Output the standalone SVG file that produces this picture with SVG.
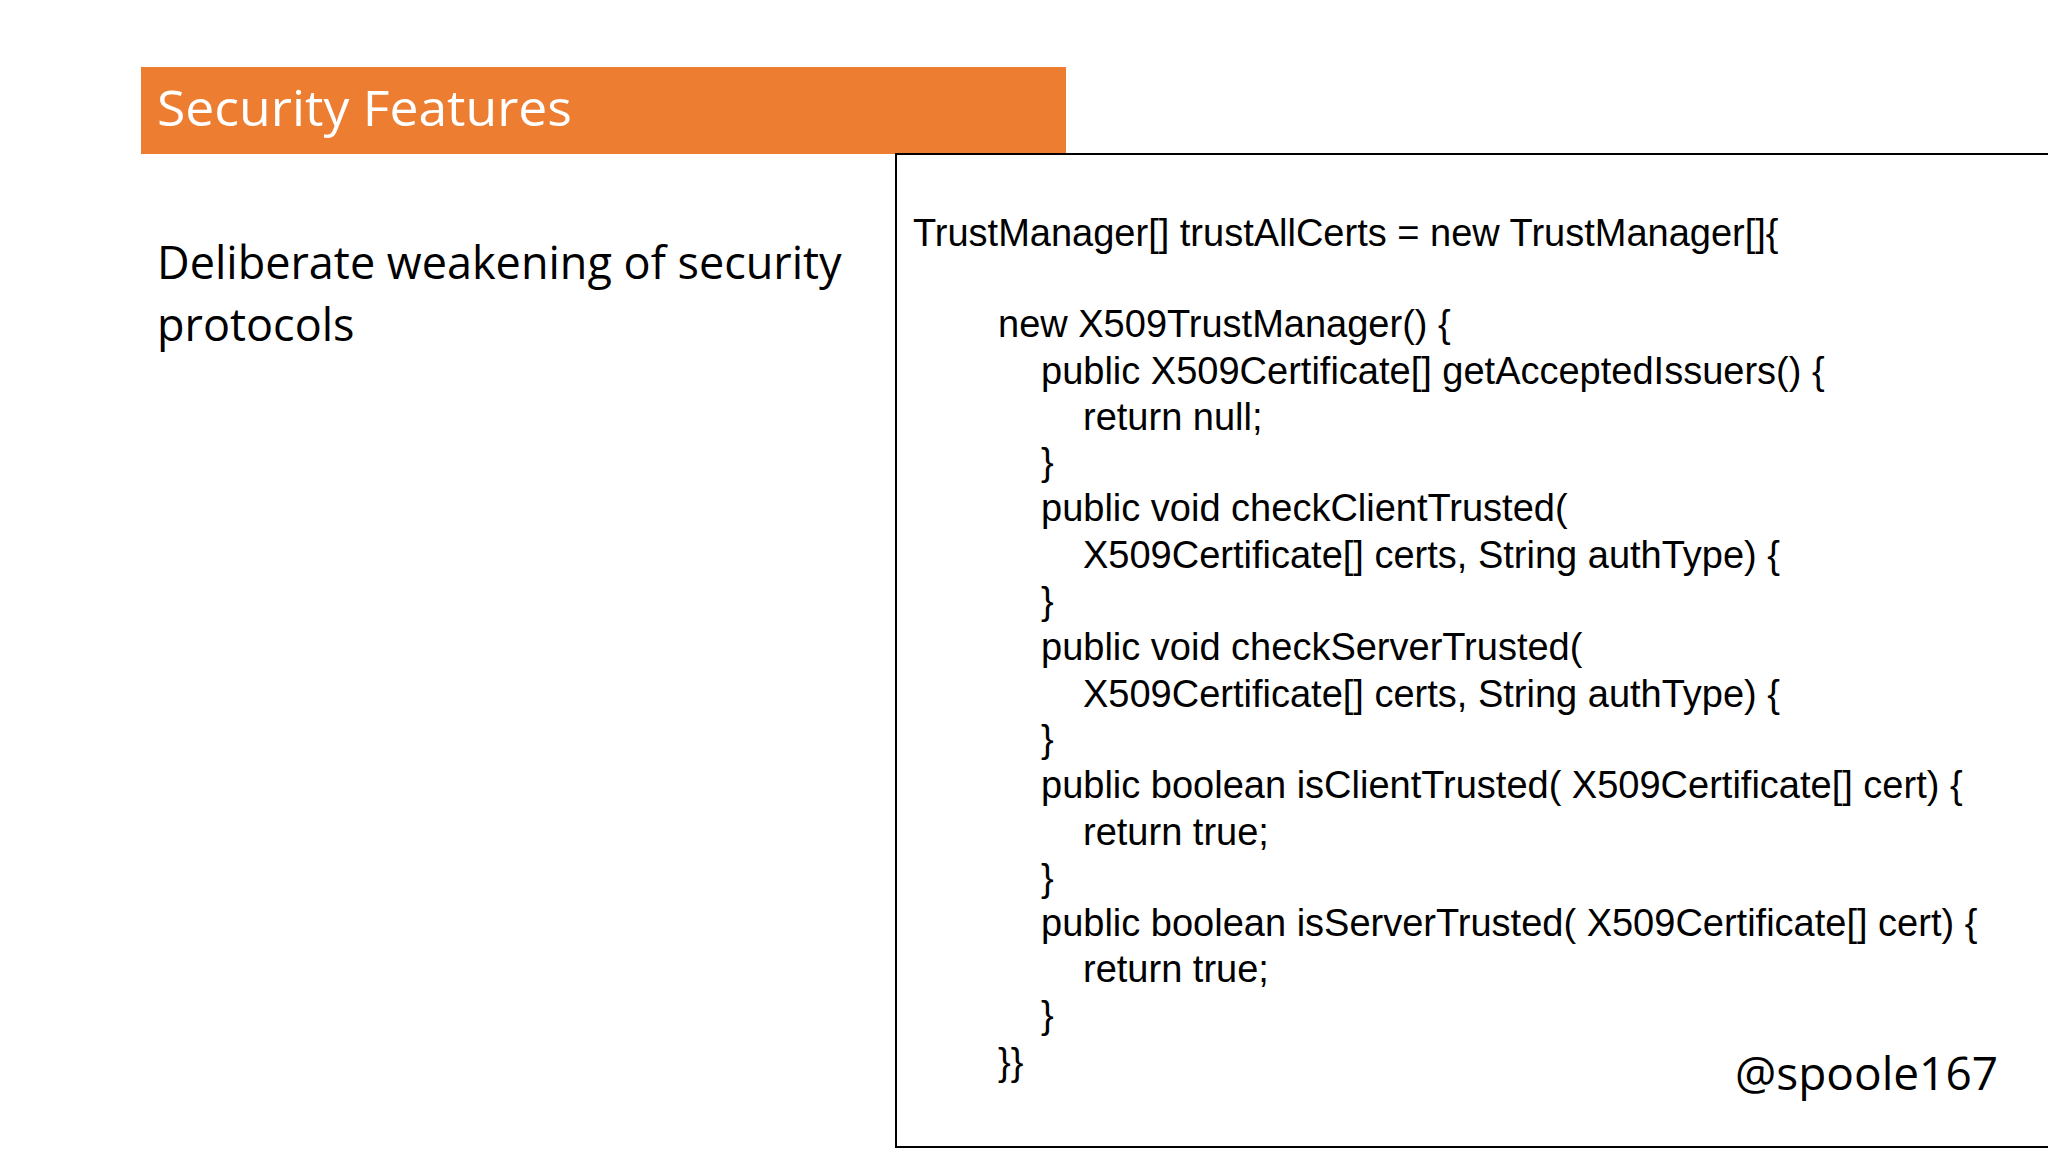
<svg xmlns="http://www.w3.org/2000/svg" width="2048" height="1152" viewBox="0 0 2048 1152">
<style>
.code{font-family:"Liberation Sans",Arial,sans-serif;font-size:38px;fill:#000}
.cal{font-family:"Open Sans","Noto Sans",sans-serif}
</style>
<rect width="2048" height="1152" fill="#fff"/>
<g id="title">
<rect x="141" y="67" width="925" height="87" fill="#ed7d31"/>
<text x="157" y="126" class="cal" font-size="50" fill="#fff" textLength="415" lengthAdjust="spacingAndGlyphs">Security Features</text>
</g>
<g id="body">
<text x="157" y="279" class="cal" font-size="45" fill="#000">Deliberate weakening of security</text>
<text x="157" y="341" class="cal" font-size="45" fill="#000">protocols</text>
</g>
<g id="codebox">
<rect x="896" y="154" width="1160" height="993" fill="#fff" stroke="#000" stroke-width="2"/>
<text class="code" x="913" y="246">TrustManager[] trustAllCerts = new TrustManager[]{</text>
<text class="code" x="998" y="337">new X509TrustManager() {</text>
<text class="code" x="1041" y="384">public X509Certificate[] getAcceptedIssuers() {</text>
<text class="code" x="1083" y="430">return null;</text>
<text class="code" x="1041" y="475">}</text>
<text class="code" x="1041" y="521">public void checkClientTrusted(</text>
<text class="code" x="1083" y="568">X509Certificate[] certs, String authType) {</text>
<text class="code" x="1041" y="614">}</text>
<text class="code" x="1041" y="660">public void checkServerTrusted(</text>
<text class="code" x="1083" y="707">X509Certificate[] certs, String authType) {</text>
<text class="code" x="1041" y="752">}</text>
<text class="code" x="1041" y="798">public boolean isClientTrusted( X509Certificate[] cert) {</text>
<text class="code" x="1083" y="845">return true;</text>
<text class="code" x="1041" y="891">}</text>
<text class="code" x="1041" y="936">public boolean isServerTrusted( X509Certificate[] cert) {</text>
<text class="code" x="1083" y="982">return true;</text>
<text class="code" x="1041" y="1028">}</text>
<text class="code" x="998" y="1075">}}</text>
</g>
<g id="handle">
<text x="1998" y="1090" class="cal" font-size="46" text-anchor="end" fill="#000">@spoole167</text>
</g>
</svg>
